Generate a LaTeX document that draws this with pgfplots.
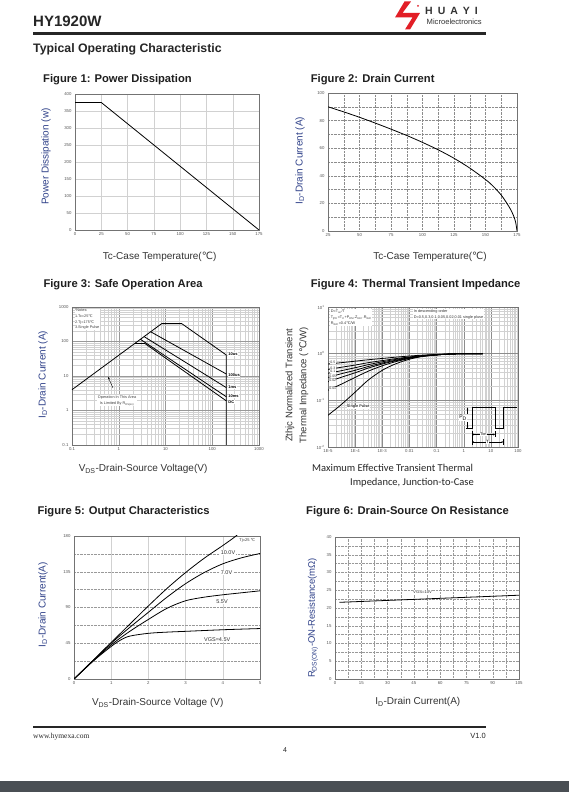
\documentclass[border=0pt]{standalone}
\usepackage{pgfplots}
\pgfplotsset{compat=1.18}
\usepackage{fontspec}
\setmainfont{Liberation Sans}
\newfontfamily\symfont{DejaVu Sans}
\newfontfamily\seriffont{Liberation Serif}
\newfontfamily\calfont{Carlito}
\usetikzlibrary{arrows.meta}
\newcommand{\degC}{{\symfont ℃}}
\definecolor{labblue}{RGB}{48,66,138}
\definecolor{tickgray}{RGB}{85,85,85}
\definecolor{barcol}{RGB}{74,79,84}
\definecolor{logored}{RGB}{226,30,38}
\pgfplotsset{
  sheet/.style={
    scale only axis, anchor=south west,
    axis line style={draw=black!55, line width=0.5pt},
    major tick length=0pt, minor tick length=0pt,
    ticklabel style={font=\fontsize{4.3}{5}\selectfont, text=tickgray},
    xticklabel style={yshift=1pt},
    /pgf/number format/assume math mode=true,
    xlabel style={font=\fontsize{10}{11}\selectfont, text=black!80, anchor=center},
    ylabel style={font=\fontsize{10}{11}\selectfont, text=labblue, anchor=center},
    clip mode=individual,
  },
  curve/.style={black, line width=0.8pt, no markers},
}
\begin{document}
\begin{tikzpicture}[x=1pt,y=1pt]
\useasboundingbox (0,0) rectangle (569,792);
\fill[white] (0,0) rectangle (569,792);

% ---------------- Figure 1
\begin{axis}[sheet, at={(75pt,562pt)}, width=184pt, height=136pt,
  xmin=0, xmax=175, ymin=0, ymax=400,
  xtick={0,25,...,175}, ytick={0,50,...,400},
  grid=major, major grid style={draw=black!18, line width=0.4pt},
  xlabel={Tc-Case Temperature(\degC)}, ylabel={Power Dissipation (w)},
  xlabel style={at={(axis description cs:0.46,-0.2)}},
  ylabel style={at={(axis description cs:-0.158,0.54)}}]
\addplot[curve] coordinates {(0,375) (25,375) (175,0)};
\end{axis}

% ---------------- Figure 2
\begin{axis}[sheet, at={(328pt,561pt)}, width=189pt, height=138pt,
  xmin=25, xmax=175, ymin=0, ymax=100,
  xtick={25,50,...,175}, ytick={0,20,...,100},
  minor x tick num=1, minor y tick num=1,
  grid=both, grid style={draw=black!45, densely dotted, line width=0.4pt},
  xlabel={Tc-Case Temperature(\degC)}, ylabel={I\textsubscript{D}-Drain Current (A)},
  xlabel style={at={(axis description cs:0.54,-0.19)}},
  ylabel style={at={(axis description cs:-0.148,0.51)}}]
\addplot[curve, smooth] coordinates {(25,90) (37.5,86.3) (50,82.4) (62.5,78.2) (75,73.8) (87.5,69.2) (100,64.2) (112.5,58.8) (125,52.7) (137.5,45.6) (150,37.3) (156,32.5) (162.5,26) (167,20) (170,15.5) (172.5,10.5) (174,6) (175,0)};
\end{axis}

% ---------------- Figure 3
\begin{axis}[sheet, at={(72pt,347pt)}, width=187pt, height=138pt,
  xmode=log, ymode=log, xmin=0.1, xmax=1000, ymin=0.1, ymax=1000,
  xtick={0.1,1,10,100,1000}, xticklabels={0.1,1,10,100,1000},
  ytick={0.1,1,10,100,1000}, yticklabels={0.1,1,10,100,1000},
  minor xtick={0.2,0.3,0.4,0.5,0.6,0.7,0.8,0.9,2,3,4,5,6,7,8,9,20,30,40,50,60,70,80,90,200,300,400,500,600,700,800,900},
  minor ytick={0.2,0.3,0.4,0.5,0.6,0.7,0.8,0.9,2,3,4,5,6,7,8,9,20,30,40,50,60,70,80,90,200,300,400,500,600,700,800,900},
  grid=both, major grid style={draw=black!40, line width=0.4pt}, minor grid style={draw=black!18, line width=0.4pt},
  xlabel={V\textsubscript{DS}-Drain-Source Voltage(V)}, ylabel={I\textsubscript{D}-Drain Current (A)},
  xlabel style={at={(axis description cs:0.38,-0.174)}},
  ylabel style={at={(axis description cs:-0.155,0.51)}}]
\addplot[curve] coordinates {(0.1,4) (8.3,330) (22.2,330) (200,40.6) (200,0.1)};
\addplot[curve] coordinates {(4.8,192) (200,11.4)};
\addplot[curve] coordinates {(3.47,139) (200,4.6)};
\addplot[curve] coordinates {(2.9,116) (200,2.5)};
\addplot[curve] coordinates {(2.2,88) (3.6,88) (200,1.9)};
\begin{scope}[every node/.style={font=\fontsize{4}{4.5}\selectfont\bfseries, anchor=west, fill=white, inner sep=0.4pt}]
\node at (axis cs:215,43.5) {10us};
\node at (axis cs:215,10.7) {100us};
\node at (axis cs:215,4.8) {1ms};
\node at (axis cs:215,2.6) {10ms};
\node at (axis cs:215,1.8) {DC};
\end{scope}
\node[anchor=north west, align=left, fill=white, inner sep=0.5pt, font=\fontsize{3.8}{5.6}\selectfont, text=black!75] at (axis cs:0.112,900) {*Notes:\\1.Tc=25\degC\\2.Tj=175\degC\\3.Single Pulse};
\node[align=center, font=\fontsize{3.8}{5.6}\selectfont, text=black!75, fill=white, inner sep=0.5pt] at (axis cs:0.92,1.9) {Operation In This Area\\Is Limited By R\textsubscript{DS(on)}};
\draw[-{Stealth[length=2.5pt,width=2pt]}, black, line width=0.4pt] (axis cs:0.753,4.5) -- (axis cs:0.589,9.4);
\end{axis}

% ---------------- Figure 4
\begin{axis}[sheet, at={(328pt,345pt)}, width=190pt, height=140pt,
  xmode=log, ymode=log, xmin=1e-5, xmax=100, ymin=0.01, ymax=10,
  xtick={1e-5,1e-4,1e-3,0.01,0.1,1,10,100}, xticklabels={1E-5,1E-4,1E-3,0.01,0.1,1,10,100},
  ytick={0.01,0.1,1,10}, yticklabels={{10\textsuperscript{-2}},{10\textsuperscript{-1}},{10\textsuperscript{0}},{10\textsuperscript{1}}},
  minor xtick={2e-5,3e-5,4e-5,5e-5,6e-5,7e-5,8e-5,9e-5,2e-4,3e-4,4e-4,5e-4,6e-4,7e-4,8e-4,9e-4,2e-3,3e-3,4e-3,5e-3,6e-3,7e-3,8e-3,9e-3,0.02,0.03,0.04,0.05,0.06,0.07,0.08,0.09,0.2,0.3,0.4,0.5,0.6,0.7,0.8,0.9,2,3,4,5,6,7,8,9,20,30,40,50,60,70,80,90},
  minor ytick={0.02,0.03,0.04,0.05,0.06,0.07,0.08,0.09,0.2,0.3,0.4,0.5,0.6,0.7,0.8,0.9,2,3,4,5,6,7,8,9},
  grid=both, major grid style={draw=black!45, line width=0.4pt}, minor grid style={draw=black!18, line width=0.4pt},
  ylabel={Zthjc Normalized Transient\\Thermal Impedance (\degC/W)},
  ylabel style={at={(axis description cs:-0.163,0.44)}, align=center, text=black!80, font=\fontsize{9.5}{14}\selectfont}]
\addplot[curve, smooth] coordinates {(1e-5,0.60) (3e-5,0.64) (1e-4,0.69) (3e-4,0.74) (1e-3,0.79) (3e-3,0.84) (1e-2,0.89) (3e-2,0.93) (0.1,0.96) (0.3,0.98) (1,1) (5,1)};
\addplot[curve, smooth] coordinates {(1e-5,0.46) (3e-5,0.51) (1e-4,0.57) (3e-4,0.64) (1e-3,0.71) (3e-3,0.78) (1e-2,0.85) (3e-2,0.91) (0.1,0.95) (0.3,0.98) (1,1) (5,1)};
\addplot[curve, smooth] coordinates {(1e-5,0.38) (3e-5,0.43) (1e-4,0.50) (3e-4,0.58) (1e-3,0.67) (3e-3,0.75) (1e-2,0.83) (3e-2,0.90) (0.1,0.95) (0.3,0.98) (1,1) (5,1)};
\addplot[curve, smooth] coordinates {(1e-5,0.31) (3e-5,0.37) (1e-4,0.44) (3e-4,0.53) (1e-3,0.63) (3e-3,0.72) (1e-2,0.82) (3e-2,0.89) (0.1,0.94) (0.3,0.98) (1,1) (5,1)};
\addplot[curve, smooth] coordinates {(1e-5,0.25) (3e-5,0.31) (1e-4,0.39) (3e-4,0.49) (1e-3,0.60) (3e-3,0.70) (1e-2,0.80) (3e-2,0.88) (0.1,0.94) (0.3,0.98) (1,1) (5,1)};
\addplot[curve, smooth] coordinates {(1e-5,0.165) (3e-5,0.22) (1e-4,0.31) (3e-4,0.42) (1e-3,0.55) (3e-3,0.67) (1e-2,0.79) (3e-2,0.88) (0.1,0.94) (0.3,0.98) (1,1) (5,1)};
\addplot[curve, smooth] coordinates {(1e-5,0.048) (3e-5,0.08) (1e-4,0.15) (3e-4,0.27) (1e-3,0.44) (3e-3,0.60) (1e-2,0.76) (3e-2,0.87) (0.1,0.94) (0.3,0.98) (1,1) (5,1)};
\begin{scope}[every node/.style={font=\fontsize{3.5}{4}\selectfont, fill=white, inner sep=0.3pt, text=black!80}]
\node at (axis cs:1.5e-5,0.64) {0.5};
\node at (axis cs:1.5e-5,0.49) {0.3};
\node at (axis cs:1.5e-5,0.41) {0.1};
\node at (axis cs:1.5e-5,0.335) {0.05};
\node at (axis cs:1.5e-5,0.27) {0.02};
\node at (axis cs:1.5e-5,0.18) {0.01};
\node[font=\fontsize{3.8}{4}\selectfont\bfseries] at (axis cs:1.3e-4,0.073) {Single Pulse};
\end{scope}
\end{axis}

% ---------------- Figure 5
\begin{axis}[sheet, at={(74pt,113pt)}, width=186pt, height=143pt,
  xmin=0, xmax=5, ymin=0, ymax=180,
  xtick={0,1,...,5}, ytick={0,45,...,180}, minor y tick num=1,
  grid=both, major x grid style={draw=black!18, line width=0.4pt},
  major y grid style={draw=black!40, densely dotted, line width=0.4pt},
  minor y grid style={draw=black!40, densely dotted, line width=0.4pt},
  xlabel={V\textsubscript{DS}-Drain-Source Voltage (V)}, ylabel={I\textsubscript{D}-Drain Current(A)},
  xlabel style={at={(axis description cs:0.45,-0.168)}},
  ylabel style={at={(axis description cs:-0.167,0.52)}}]
\addplot[curve, smooth] coordinates {(0,0) (0.5,23) (1,46) (1.5,69) (2,92) (2.5,114) (3,134) (3.5,152) (4,168) (4.3,178) (4.4,182)};
\addplot[curve, smooth] coordinates {(0,0) (0.5,22.5) (1,45) (1.5,65) (2,84) (2.5,103) (3,120) (3.5,134) (4,145) (4.5,152.5) (5,158)};
\addplot[curve, smooth] coordinates {(0,0) (0.5,22) (1,43) (1.5,60) (2,75) (2.5,89) (3,98.5) (3.5,103) (4,106) (4.5,108.5) (5,111)};
\addplot[curve, smooth] coordinates {(0,0) (0.5,22) (1,41) (1.25,49) (1.5,54) (2,57.5) (2.5,59) (3,60) (4,62) (5,63.5)};
\begin{scope}[every node/.style={font=\fontsize{5.5}{6}\selectfont, fill=white, inner sep=0.5pt, text=black!80}]
\node[font=\fontsize{4}{5}\selectfont] at (axis cs:4.66,174) {Tj=25 \degC};
\node at (axis cs:4.14,159) {10.0V};
\node at (axis cs:4.1,134) {7.0V};
\node at (axis cs:3.98,97) {5.5V};
\node at (axis cs:3.85,50) {VGS=4.5V};
\end{scope}
\end{axis}

% ---------------- Figure 6
\begin{axis}[sheet, at={(335pt,113pt)}, width=184pt, height=142pt,
  xmin=0, xmax=105, ymin=0, ymax=40,
  xtick={0,15,...,105}, ytick={0,5,...,40}, minor x tick num=1, minor y tick num=1,
  grid=both, grid style={draw=black!40, densely dotted, line width=0.4pt},
  xlabel={I\textsubscript{D}-Drain Current(A)}, ylabel={R\textsubscript{DS(ON)}-ON-Resistance(mΩ)},
  xlabel style={at={(axis description cs:0.45,-0.162)}},
  ylabel style={at={(axis description cs:-0.12,0.43)}, font=\fontsize{9.5}{11}\selectfont}]
\addplot[curve] coordinates {(2.5,21.6) (105,23.6)};
\node[font=\fontsize{4.2}{5}\selectfont, fill=white, inner sep=0.4pt, text=black!80] at (axis cs:50,24.6) {VGS=10V};
\end{axis}

% ---------------- page elements (pixel coordinates, y downward)
\begin{scope}[shift={(0,792)}, y=-1pt]
% header
\node[anchor=base west, inner sep=0, font=\fontsize{15}{17}\selectfont\bfseries, text=black!85] at (33,27) {HY1920W};
\draw[line width=2.5pt, black!85] (33,33.5) -- (486,33.5);
\node[anchor=base west, inner sep=0, font=\fontsize{12.3}{14}\selectfont\bfseries, text=black!85] at (33,52.5) {Typical Operating Characteristic};
\fill[logored] (404.5,1.5) -- (411,1.5) -- (402.5,13) -- (420,13) -- (410,29.5) -- (405,29.5) -- (412.5,17.5) -- (395,17.5) -- cycle;
\fill[logored] (418,6) circle (1pt);
\node[anchor=base west, inner sep=0, font=\fontsize{10.5}{12}\selectfont\bfseries, text=black!80] at (425,15) {H\hspace{5pt}U\hspace{5pt}A\hspace{5pt}Y\hspace{5pt}I};
\node[anchor=base west, inner sep=0, font=\fontsize{7.6}{9}\selectfont, text=black!80] at (426.5,24.5) {Microelectronics};
% figure titles
\begin{scope}[every node/.style={anchor=base west, inner sep=0, font=\fontsize{11.2}{13}\selectfont\bfseries, text=black!88}]
\node at (43,82.3) {Figure 1: Power Dissipation};
\node at (310.7,82.3) {Figure 2: Drain Current};
\node at (43.3,287.7) {Figure 3: Safe Operation Area};
\node at (310.7,287.7) {Figure 4: Thermal Transient Impedance};
\node at (37.3,515) {Figure 5: Output Characteristics};
\node at (306,515) {Figure 6: Drain-Source On Resistance};
\end{scope}
% figure 4 caption
\node[anchor=base west, inner sep=0, font=\calfont\fontsize{10.5}{12}\selectfont, text=black!85] at (312,471.7) {Maximum Effective Transient Thermal};
\node[anchor=base west, inner sep=0, font=\calfont\fontsize{10.5}{12}\selectfont, text=black!85] at (350,486) {Impedance, Junction-to-Case};
% figure 4 text boxes
\node[anchor=north west, align=left, fill=white, inner sep=0.6pt, font=\fontsize{3.8}{6}\selectfont, text=black!80] at (330,308.5) {D=T\textsubscript{on}/T\\T\textsubscript{jPK}=T\textsubscript{C}+P\textsubscript{DM}.Z\textsubscript{θJC}.R\textsubscript{θJC}\\R\textsubscript{θJC}=0.4\degC/W};
\node[anchor=north west, align=left, fill=white, inner sep=0.6pt, font=\fontsize{3.8}{6}\selectfont, text=black!80] at (413,308.5) {In descending order\\D=0.5,0.3,0.1,0.05,0.02,0.01 single pluse};
% figure 4 pulse diagram
\draw[black, line width=0.8pt] (466,428.5) -- (472,428.5) -- (472,407.3) -- (495,407.3) -- (495,428.3) -- (503.3,428.3) -- (503.3,407.3) -- (516.5,407.3);
\node[font=\fontsize{5}{6}\selectfont, inner sep=0.3pt, fill=white] at (463,418) {P\textsubscript{D}};
\draw[-{Stealth[length=1.8pt,width=1.6pt]}, line width=0.35pt] (467.5,414) -- (467.5,407.5);
\draw[-{Stealth[length=1.8pt,width=1.6pt]}, line width=0.35pt] (467.5,422) -- (467.5,428.3);
\draw[line width=0.35pt] (472,431) -- (472,445);
\draw[{Stealth[length=1.8pt,width=1.6pt]}-{Stealth[length=1.8pt,width=1.6pt]}, line width=0.35pt] (472,434.5) -- (495,434.5);
\draw[line width=0.35pt] (495,431) -- (495,437);
\node[font=\fontsize{3.8}{4}\selectfont, fill=white, inner sep=0.4pt] at (483.5,434.5) {Ton};
\draw[{Stealth[length=1.8pt,width=1.6pt]}-{Stealth[length=1.8pt,width=1.6pt]}, line width=0.35pt] (472,442) -- (503.3,442);
\draw[line width=0.35pt] (503.3,439) -- (503.3,445);
\node[font=\fontsize{4.5}{5}\selectfont, fill=white, inner sep=0.6pt] at (487.5,442) {T};
% footer
\draw[line width=2pt, black!85] (33,727.3) -- (486,727.3);
\node[anchor=base west, inner sep=0, font=\seriffont\fontsize{7.5}{9}\selectfont, text=black!85] at (33,738.5) {www.hymexa.com};
\node[anchor=base east, inner sep=0, font=\fontsize{7.5}{9}\selectfont, text=black!85] at (486,738.5) {V1.0};
\node[anchor=base, inner sep=0, font=\fontsize{7}{8}\selectfont, text=black!85] at (285,753) {4};
\fill[barcol] (0,781) rectangle (569,792);
\end{scope}
\end{tikzpicture}
\end{document}
